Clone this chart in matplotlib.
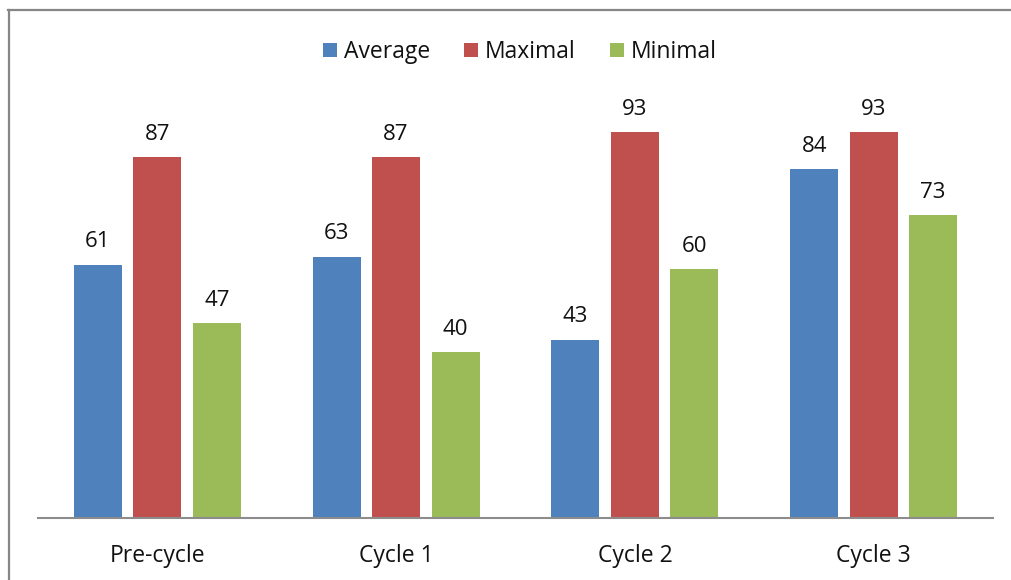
import matplotlib
matplotlib.use("Agg")
import matplotlib.pyplot as plt
from matplotlib.lines import Line2D
import numpy as np

categories = ["Pre-cycle", "Cycle 1", "Cycle 2", "Cycle 3"]
series_names = ["Average", "Maximal", "Minimal"]
average = [61, 63, 43, 84]
maximal = [87, 87, 93, 93]
minimal = [47, 40, 60, 73]
colors = ["#4F81BD", "#C0504D", "#9BBB59"]

plt.rcParams["font.family"] = ["Open Sans", "DejaVu Sans"]
FS = 16
TXT = "#111111"

W, H = 1011, 580
fig = plt.figure(figsize=(W / 100, H / 100), dpi=100)

# Chart frame (top and left edges visible)
fig.add_artist(Line2D([9 / W, 9 / W], [0, 1 - 10 / H], color="#868686", lw=1.6,
                      transform=fig.transFigure))
fig.add_artist(Line2D([8 / W, 1.0], [1 - 10 / H, 1 - 10 / H], color="#868686", lw=1.6,
                      transform=fig.transFigure))

ax = fig.add_axes([38 / W, 1 - 518 / H, 955 / W, 415 / H])
x = np.arange(len(categories))
step = 0.249
width = 0.201
for i, (name, vals, c) in enumerate(zip(series_names, [average, maximal, minimal], colors)):
    pos = x + (i - 1) * step
    bars = ax.bar(pos, vals, width, color=c, label=name, zorder=2)
    for b, v in zip(bars, vals):
        ax.annotate(f"{v}", (b.get_x() + b.get_width() / 2, v), xytext=(0, 12.5),
                    textcoords="offset points", ha="center", va="baseline",
                    fontsize=FS, color=TXT)

ax.set_xlim(-0.5, len(categories) - 0.5)
ax.set_ylim(0, 100)
ax.set_yticks([])
ax.set_xticks(x)
ax.set_xticklabels(categories, fontsize=16.5, color=TXT)
ax.tick_params(axis="x", length=0, pad=18.5)
for s in ["top", "right", "left"]:
    ax.spines[s].set_visible(False)
ax.spines["bottom"].set_color("#8c8c8c")
ax.spines["bottom"].set_linewidth(1.5)

leg = fig.legend(loc="center", bbox_to_anchor=(520 / W, 1 - 52 / H), ncol=3, frameon=False,
                 fontsize=16.5, handlelength=0.6, handleheight=0.6, handletextpad=0.3,
                 columnspacing=1.5)
for t in leg.get_texts():
    t.set_color(TXT)

fig.savefig("out.png", dpi=100)
